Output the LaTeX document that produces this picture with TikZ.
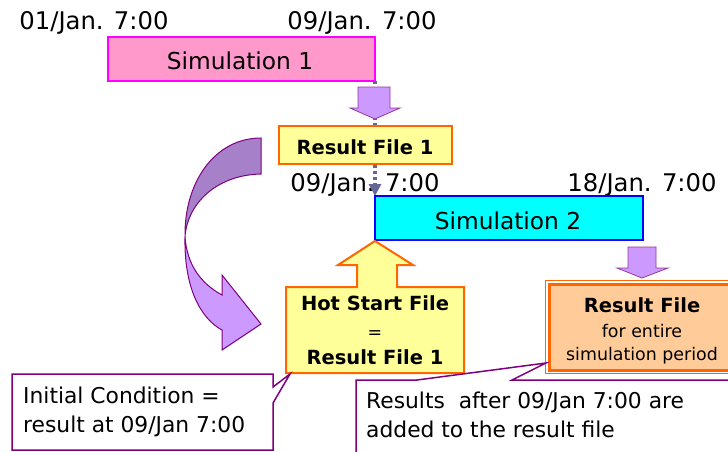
\documentclass[tikz,border=0pt]{standalone}
\usepackage{fontspec}
\setmainfont{DejaVu Sans}
\usetikzlibrary{arrows.meta}

\definecolor{simAfill}{HTML}{FF99CC}
\definecolor{simAline}{HTML}{FF00FF}
\definecolor{fileFill}{HTML}{FFFF99}
\definecolor{fileLine}{HTML}{FF6600}
\definecolor{simBfill}{HTML}{00FFFF}
\definecolor{simBline}{HTML}{0000FF}
\definecolor{outFill}{HTML}{FFCC99}
\definecolor{arrowFill}{HTML}{CC99FF}
\definecolor{arrowLine}{HTML}{993399}
\definecolor{linkLine}{HTML}{666699}
\definecolor{noteLine}{HTML}{800080}
\definecolor{bandBack}{HTML}{A680C8}

\tikzset{
  box/.style={rectangle, inner sep=0pt, outer sep=0pt, line width=2pt},
  datelbl/.style={anchor=base, inner sep=0pt, font=\fontsize{24.3}{29}\selectfont},
  lbl/.style={anchor=base, inner sep=0pt, font=\fontsize{23.3}{28}\selectfont},
  boldlbl/.style={anchor=base, inner sep=0pt, font=\fontsize{19.5}{24}\selectfont\bfseries},
  smalllbl/.style={anchor=base, inner sep=0pt, font=\fontsize{17.4}{21}\selectfont},
  notelbl/.style={anchor=base west, inner sep=0pt, font=\fontsize{21.8}{26}\selectfont},
  blockarrow/.style={fill=arrowFill, draw=arrowLine, line width=0.8pt, line join=miter},
  notebox/.style={fill=white, draw=noteLine, line width=1.5pt, line join=miter},
  link/.style={draw=linkLine, line width=3.5pt, dash pattern=on 3pt off 3pt,
    -{Triangle[width=12pt,length=12pt]}},
  band/.style={draw=noteLine, line width=1pt, line join=miter}
}

\begin{document}
\begin{tikzpicture}[x=1pt,y=-1pt]
\useasboundingbox (0,0) rectangle (728,452);
\clip (0,0) rectangle (728,452);
\fill[white] (0,0) rectangle (728,452);

% time stamps
\node[datelbl] (tA) at (94,30) {01/Jan. 7:00};
\node[datelbl] (tB) at (362,30) {09/Jan. 7:00};
\node[datelbl] (tC) at (365,191) {09/Jan. 7:00};
\node[datelbl] (tD) at (642,191) {18/Jan. 7:00};

% dashed link from the end of simulation 1 to the start of simulation 2
\coordinate (sim1corner) at (375,81);
\coordinate (sim2corner) at (375,196);
\draw[link] (sim1corner) -- (sim2corner);

\node[box, fill=simAfill, draw=simAline, minimum width=267pt, minimum height=44pt] (sim1) at (241.5,59) {};
\node[box, fill=fileFill, draw=fileLine, minimum width=173pt, minimum height=38pt] (res1) at (365.5,145) {};
\node[box, fill=simBfill, draw=simBline, minimum width=268pt, minimum height=44pt] (sim2) at (509,218) {};

% downward block arrows
\draw[blockarrow] (358,87) -- (390,87) -- (390,108) -- (400,108) -- (375,119)
  -- (350,108) -- (358,108) -- cycle;
\draw[blockarrow] (628,247) -- (656,247) -- (656,268) -- (668,268) -- (642,278)
  -- (617,268) -- (628,268) -- cycle;

% hot start file with its upward arrow
\draw[fill=fileFill, draw=fileLine, line width=2pt, line join=miter]
  (375,241) -- (413,265) -- (397,265) -- (397,287) -- (464,287) -- (464,373)
  -- (286,373) -- (286,287) -- (357,287) -- (357,265) -- (338,265) -- cycle;
\coordinate (hot) at (290,374);

% result file for the whole period (double frame)
\draw[fill=white, draw=fileLine, line width=1pt] (545,280) rectangle (760,373);
\node[box, fill=outFill, draw=fileLine, line width=3pt, anchor=north west,
  minimum width=220pt, minimum height=86pt] (out) at (549,284) {};

% curved transfer arrow
\draw[band, fill=bandBack] (261,138) .. controls (215,138) and (184,182) .. (185,237)
  .. controls (187,205) and (215,175) .. (261,174) -- cycle;
\draw[band, fill=arrowFill] (185,237) .. controls (184,287) and (200,318) .. (222,330)
  -- (222,350) -- (261,324) -- (222,275) -- (222,295)
  .. controls (200,283) and (187,264) .. (185,237) -- cycle;

% callouts
\draw[notebox] (12,374) -- (273,374) -- (273,387) -- (hot) -- (273,403)
  -- (273,450) -- (12,450) -- cycle;
\coordinate (outtip) at (546,363);
\draw[notebox] (356,380) -- (417,380) -- (outtip) -- (512,380) -- (760,380)
  -- (760,480) -- (356,480) -- cycle;

% texts
\node[lbl] (s1txt) at (240,70) {Simulation 1};
\node[lbl] (s2txt) at (508,229) {Simulation 2};
\node[boldlbl] (r1txt) at (365,154) {Result File 1};
\node[boldlbl] (hotA) at (375,310) {Hot Start File};
\node[smalllbl] (hotB) at (375,338) {=};
\node[boldlbl] (hotC) at (375,364) {Result File 1};
\node[boldlbl] (outA) at (642,312) {Result File};
\node[smalllbl] (outB) at (642,337) {for entire};
\node[smalllbl] (outC) at (642,360) {simulation period};
\node[notelbl] (nA1) at (23,403) {Initial Condition =};
\node[notelbl] (nA2) at (23,432) {result at 09/Jan 7:00};
\node[notelbl] (nB1) at (366,408) {Results\ \ after 09/Jan 7:00 are};
\node[notelbl] (nB2) at (366,437) {added to the result file};
\end{tikzpicture}
\end{document}
